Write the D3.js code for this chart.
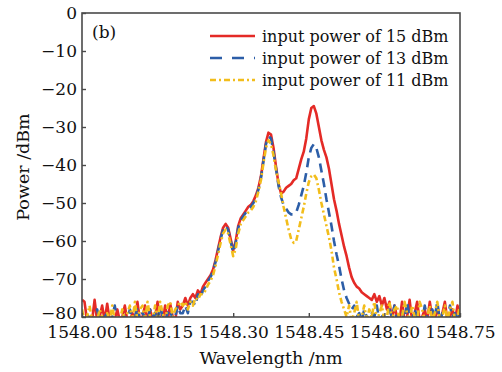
<!DOCTYPE html>
<html><head><meta charset="utf-8">
<script src="https://cdn.jsdelivr.net/npm/d3@7"></script>
<style>
html,body{margin:0;padding:0;background:#fff;}
svg text{font-family:"DejaVu Serif",serif;fill:#111;}
</style></head>
<body><svg id="c" width="502" height="372"></svg>
<script>
// ---- data ----
const wavelength = [
1548.000,1548.005,1548.010,1548.015,1548.020,1548.025,1548.030,1548.035,1548.040,1548.045,
1548.050,1548.055,1548.060,1548.065,1548.070,1548.075,1548.080,1548.085,1548.090,1548.095,
1548.100,1548.105,1548.110,1548.115,1548.120,1548.125,1548.130,1548.135,1548.140,1548.145,
1548.150,1548.155,1548.160,1548.165,1548.170,1548.175,1548.180,1548.185,1548.190,1548.195,
1548.200,1548.205,1548.210,1548.215,1548.220,1548.225,1548.230,1548.235,1548.240,1548.245,
1548.250,1548.255,1548.260,1548.265,1548.270,1548.275,1548.280,1548.285,1548.290,1548.295,
1548.300,1548.305,1548.310,1548.315,1548.320,1548.325,1548.330,1548.335,1548.340,1548.345,
1548.350,1548.355,1548.360,1548.365,1548.370,1548.375,1548.380,1548.385,1548.390,1548.395,
1548.400,1548.405,1548.410,1548.415,1548.420,1548.425,1548.430,1548.435,1548.440,1548.445,
1548.450,1548.455,1548.460,1548.465,1548.470,1548.475,1548.480,1548.485,1548.490,1548.495,
1548.500,1548.505,1548.510,1548.515,1548.520,1548.525,1548.530,1548.535,1548.540,1548.545,
1548.550,1548.555,1548.560,1548.565,1548.570,1548.575,1548.580,1548.585,1548.590,1548.595,
1548.600,1548.605,1548.610,1548.615,1548.620,1548.625,1548.630,1548.635,1548.640,1548.645,
1548.650,1548.655,1548.660,1548.665,1548.670,1548.675,1548.680,1548.685,1548.690,1548.695,
1548.700,1548.705,1548.710,1548.715,1548.720,1548.725,1548.730,1548.735,1548.740,1548.745,
1548.750];

const power15 = [
-75.5,-76,-81,-80,-81,-75.5,-81,-80,-77,-81,-76.5,-81,-80,-81,-78,-81,-80,-77,-81,-81,
-79,-81,-76,-81,-80,-77,-81,-78,-81,-80,-76,-81,-81,-77,-81,-76.5,-80,-81,-76,-78,
-77,-75,-77,-75,-74,-75,-73,-74,-72,-71,-70,-69,-67.5,-65,-62,-59,-56.5,-55.5,-56.5,-59.5,
-62.5,-60,-56,-54,-53,-52,-51,-50.5,-49.5,-48,-46,-43,-38.5,-34,-31.5,-32,-35.5,-40.5,-45,-47.5,
-47,-46,-45.5,-45,-44,-43.5,-41,-38.5,-36.5,-33,-28,-25,-24.5,-26.5,-30,-33.5,-36,-38,-41,-45,
-49,-52,-55.5,-58.5,-61.5,-64,-67,-69.5,-71,-72,-72.5,-73.5,-74,-74.5,-75,
-75.5,-74,-76,-74.5,-77,-75,-78,-76,-81,-77,-80,-81,-76,-81,-80,-75.5,-81,-79,-76,-81,
-80,-78,-81,-76,-80,-81,-77,-81,-79,-76,-81,-80,-78,-81,-77,-80];

const power13 = [
-80,-80.5,-80,-79,-81,-80,-78,-81,-80,-80,-79,-81,-80,-77,-81,-80,-79,-80,-81,-78,
-80,-80,-77.5,-81,-79,-80,-81,-78,-80,-79,-81,-77,-80,-81,-79,-78,-81,-80,-77,-79,
-79,-77,-79,-76,-76,-77,-74,-75,-73,-72,-70.5,-69.5,-68,-65.5,-62.5,-59.5,-57,-56,-57,-60,
-63,-60.5,-56.5,-54.5,-53.5,-52.5,-51.5,-51,-50,-48.5,-46.5,-43.5,-39,-34.5,-32.5,-33,-36.5,-41,-45.5,-48.5,
-50.5,-51.5,-52.5,-53,-53,-52.5,-50.5,-48,-45.5,-42,-38,-35.5,-34.5,-35.5,-38,-41.5,-45,-49,-52.5,-56,
-60,-63.5,-66.5,-70,-73,-75,-76.5,-78,
-77,-80,-79,-81,-78,-80,-81,-79,-80,-77,-81,-80,-79,-81,-78,-80,-77,-81,-80,-79,
-81,-76,-80,-81,-78,-80,-79,-81,-77,-80,-81,-78,-80,-76,-81,-79,-80,-81,-77,-80,-79,-81,-78];

const power11 = [
-78,-81,-80,-77,-81,-80,-81,-78,-80,-81,-79,-81,-77,-81,-80,-81,-78,-81,-79,-77,
-81,-76,-81,-78,-77,-81,-76,-80,-81,-77,-81,-76,-79,-81,-77,-76,-80,-78,-77,-76,
-77,-76,-78,-76,-77,-75,-75.5,-74,-74,-73,-71.5,-70.5,-69,-66.5,-63.5,-60.5,-58,-57,-58,-61,
-64,-62,-58,-55.5,-54.5,-53.5,-52.5,-52,-51,-49.5,-47,-44,-39.5,-35.5,-33.5,-34.5,-37.5,-41.5,-44.5,-47.5,
-51,-54,-57,-59.5,-60.5,-60,-57,-54,-51,-47.5,-44.5,-43,-42.5,-43.5,-46.5,-50,-53,-56,-59,-62.5,
-67,-70,-73.5,-76,-78,
-80,-77,-81,-79,-76,-81,-80,-77,-81,-78,-80,-76,-81,-79,-77,-81,-80,-76,-81,-78,
-77,-81,-80,-76,-79,-81,-77,-80,-81,-76,-78,-81,-80,-77,-81,-79,-76,-81,-80,-77,-81,-78,-76,-81,-80,-77];

const seriesNames = ["input power of 15 dBm","input power of 13 dBm","input power of 11 dBm"];
const seriesColors = ["#e42a26","#2c5ea8","#f2bd1b"];
const seriesDash = [null,"9,6","6,3,2,3"];
const xTicks = [1548.00,1548.15,1548.30,1548.45,1548.60,1548.75];
const yTicks = [0,-10,-20,-30,-40,-50,-60,-70,-80];

// ---- chart ----
const svg = d3.select("#c");
const L=82, R=460, T=13, B=317;
const x = d3.scaleLinear().domain([1548.0,1548.75]).range([L,R]);
const y = d3.scaleLinear().domain([-80,0]).range([B,T]);

svg.append("defs").append("clipPath").attr("id","clip")
  .append("rect").attr("x",L).attr("y",T).attr("width",R-L).attr("height",B-T);

const series = [power15,power13,power11];
const line = d3.line().x(d=>x(d[0])).y(d=>y(d[1]));
const g = svg.append("g").attr("clip-path","url(#clip)");
series.forEach((s,k)=>{
  const pts = s.map((v,i)=>[wavelength[i],v]).filter(d=>d[0]!==undefined);
  g.append("path").attr("d",line(pts)).attr("fill","none")
    .attr("stroke",seriesColors[k]).attr("stroke-width",2.6)
    .attr("stroke-linejoin","round")
    .attr("stroke-dasharray",seriesDash[k]);
});

// frame
const axisColor="#4a4a4a";
svg.append("rect").attr("x",L).attr("y",T).attr("width",R-L).attr("height",B-T)
  .attr("fill","none").attr("stroke",axisColor).attr("stroke-width",1.6);

// axes
const xAxis = d3.axisBottom(x).tickValues(xTicks).tickSize(-4).tickPadding(9)
  .tickFormat(d3.format(".2f"));
const gx = svg.append("g").attr("transform",`translate(0,${B})`).call(xAxis);
const yAxis = d3.axisLeft(y).tickValues(yTicks).tickSize(-4).tickPadding(5)
  .tickFormat(d=> d===0 ? "0" : "\u2212"+Math.abs(d));
const gy = svg.append("g").attr("transform",`translate(${L},0)`).call(yAxis);
[gx,gy].forEach(a=>{
  a.select(".domain").remove();
  a.selectAll(".tick line").attr("stroke",axisColor).attr("stroke-width",1.4);
  a.selectAll(".tick text").attr("font-family","DejaVu Serif").attr("font-size",17).attr("fill","#111");
});
gx.selectAll(".tick text").attr("dy","0.7em");
gy.selectAll(".tick text").filter(d=>d===-80).attr("dy","0.1em");

// axis titles
svg.append("text").attr("x",(L+R)/2).attr("y",364).attr("text-anchor","middle")
  .attr("font-size",17.5).text("Wavelength /nm");
svg.append("text").attr("transform","translate(29,167) rotate(-90)").attr("text-anchor","middle")
  .attr("font-size",17.5).text("Power /dBm");

// panel label
svg.append("text").attr("x",92).attr("y",38).attr("font-size",17).text("(b)");

// legend
const lg = svg.append("g");
seriesNames.forEach((n,k)=>{
  const yy = 36 + k*22;
  lg.append("line").attr("x1",210).attr("x2",255).attr("y1",yy).attr("y2",yy)
    .attr("stroke",seriesColors[k]).attr("stroke-width",2.6)
    .attr("stroke-dasharray",k===1?"12,10":(k===2?"6,3,2,3":null));
  lg.append("text").attr("x",262).attr("y",yy+5.5).attr("font-size",16).text(n);
});
</script></body></html>
